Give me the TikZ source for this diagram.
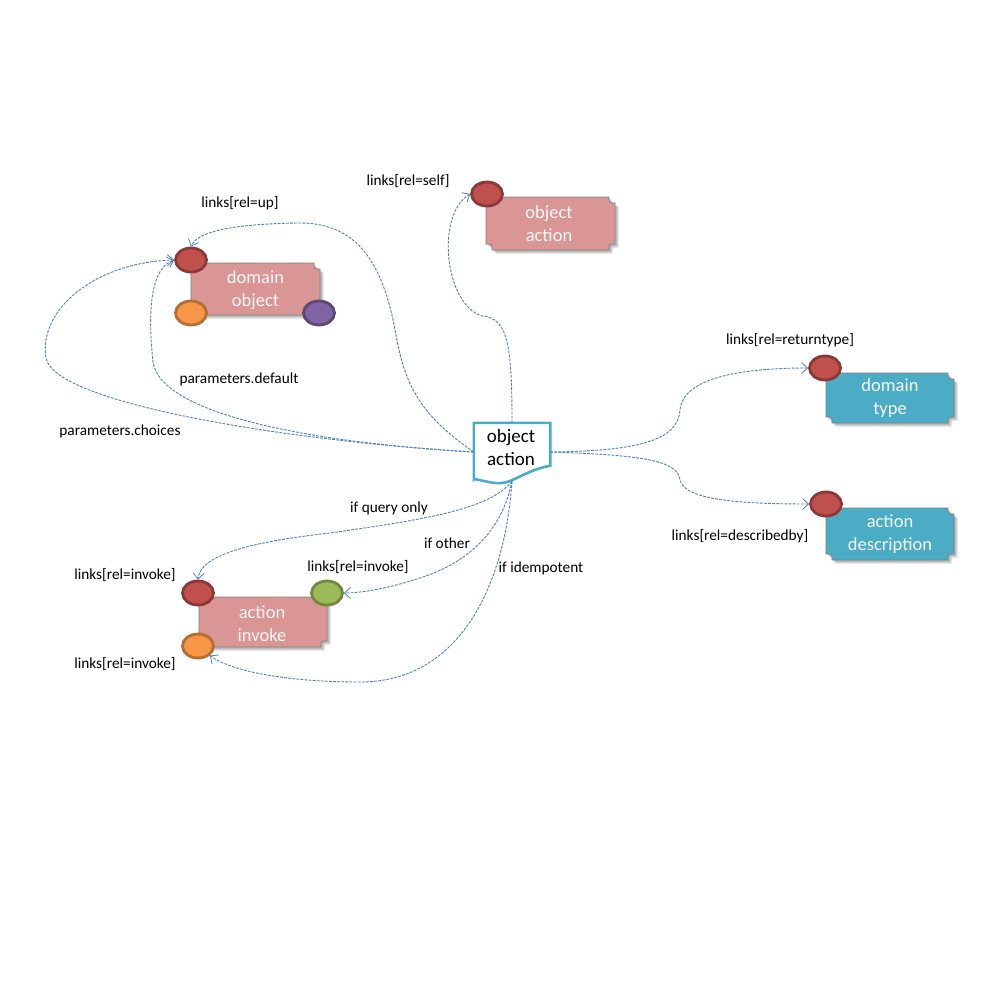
\documentclass[tikz,border=0pt]{standalone}
\usepackage{fontspec}
\setmainfont{Carlito}
\usetikzlibrary{arrows.meta,shadows,shapes.geometric}

\definecolor{pinkfill}{HTML}{D99694}
\definecolor{cyanfill}{HTML}{4BACC6}
\definecolor{boxedge}{HTML}{808080}
\definecolor{redfill}{HTML}{C0504D}
\definecolor{rededge}{HTML}{8C3836}
\definecolor{orangefill}{HTML}{F79646}
\definecolor{orangeedge}{HTML}{B66D31}
\definecolor{purplefill}{HTML}{8064A2}
\definecolor{purpleedge}{HTML}{5C4776}
\definecolor{greenfill}{HTML}{9BBB59}
\definecolor{greenedge}{HTML}{71893F}
\definecolor{linkblue}{HTML}{4F81BD}
\definecolor{boxtext}{HTML}{F8F8F8}

\tikzset{
  shapebox/.style={draw=boxedge, line width=0.8pt,
    drop shadow={shadow xshift=2pt, shadow yshift=-2pt, opacity=0.15, fill=black},
    drop shadow={shadow xshift=3.5pt, shadow yshift=-3.5pt, opacity=0.15, fill=black}},
  pinkbox/.style={shapebox, fill=pinkfill},
  cyanbox/.style={shapebox, fill=cyanfill},
  boxlabel/.style={text=boxtext, align=center, inner sep=0pt,
    font=\fontsize{18.5}{23}\selectfont},
  port/.style={ellipse, minimum width=31pt, minimum height=24pt, inner sep=0pt,
    line width=2.8pt},
  redport/.style={port, draw=rededge, fill=redfill},
  orangeport/.style={port, draw=orangeedge, fill=orangefill},
  purpleport/.style={port, draw=purpleedge, fill=purplefill},
  greenport/.style={port, draw=greenedge, fill=greenfill},
  link/.style={draw=linkblue, line width=0.9pt, dash pattern=on 2.8pt off 1.3pt,
    -{Straight Barb[length=6pt,width=11pt,line width=0.8pt]}},
  lab/.style={inner sep=0pt, font=\fontsize{15.3}{18}\selectfont},
}

\begin{document}
\begin{tikzpicture}[x=1pt,y=-1pt]
\useasboundingbox (0,0) rectangle (1001,982);
\fill[white] (0,0) rectangle (1001,982);

% --- boxes with concave corners ---
% domain object
\path[pinkbox] (191,263) -- (314,263) .. controls (314,269) .. (320,269)
  -- (320,315) -- (191,315) -- cycle;
\node[boxlabel] (dobj) at (255.5,290.5) {domain\\object};

% object action (upper)
\path[pinkbox] (486,197) -- (609,197) .. controls (609,203) .. (615,203)
  -- (615,244) .. controls (609,244) .. (609,250)
  -- (492,250) .. controls (492,244) .. (486,244) -- cycle;
\node[boxlabel] (oact) at (549,224) {object\\action};

% domain type
\path[cyanbox] (826,373) -- (948,373) .. controls (948,379) .. (954,379)
  -- (954,417) .. controls (948,417) .. (948,423)
  -- (832,423) .. controls (832,417) .. (826,417) -- cycle;
\node[boxlabel] (dtype) at (890,398.5) {domain\\type};

% action description
\path[cyanbox] (826,508) -- (948,508) .. controls (948,514) .. (954,514)
  -- (954,554) .. controls (948,554) .. (948,560)
  -- (832,560) .. controls (832,554) .. (826,554) -- cycle;
\node[boxlabel] (adesc) at (890,534.5) {action\\description};

% action invoke
\path[pinkbox] (199,597) -- (327,597) -- (327,641)
  .. controls (321,641) .. (321,647) -- (199,647) -- cycle;
\node[boxlabel] (ainv) at (262,623.5) {action\\invoke};

% --- central document shape ---
\node[inner sep=0pt, minimum width=76pt, minimum height=58pt] (oa) at (512,452) {};
\node[align=center, inner sep=0pt, font=\fontsize{19}{23}\selectfont]
  (oaText) at (511,447.5) {object\\action};
\draw[cyanfill, line width=2.6pt, line join=miter]
  (oa.south west) ++(0,-2) |- (oa.north east) -- ++(0,43)
  .. controls (535,468) and (522,476) .. (510,481)
  .. controls (497,486) and (487,481) .. (474,479) -- cycle;

% --- ports ---
\node[redport] (doUp) at (191,260) {};
\node[orangeport] (doOr) at (191,313) {};
\node[purpleport] (doPu) at (319,313) {};
\node[redport] (oaSelf) at (487,194) {};
\node[redport] (dtRet) at (825,368) {};
\node[redport] (adDesc) at (826,504) {};
\node[redport] (aiTop) at (198,593) {};
\node[greenport] (aiGreen) at (327,593) {};
\node[orangeport] (aiBot) at (198,646) {};

% --- links ---
\draw[link] (oa.north) .. controls (512,345) and (508,318) .. (482,316)
  .. controls (445,305) and (435,215) .. (oaSelf.west);
\draw[link] (oa.west) .. controls (420,415) and (405,385) .. (396,335)
  .. controls (382,255) and (352,222) .. (297,223)
  .. controls (240,224) and (198,230) .. (doUp.north);
\draw[link] (oa.west) .. controls (300,442) and (160,412) .. (153,362)
  .. controls (147,305) and (152,268) .. (doUp.west);
\draw[link] (oa.west) .. controls (300,442) and (55,405) .. (46,358)
  .. controls (38,310) and (95,262) .. (doUp.west);
\draw[link] (oa.east) .. controls (640,451) and (678,440) .. (680,410)
  .. controls (683,378) and (740,368) .. (dtRet.west);
\draw[link] (oa.east) .. controls (640,455) and (678,460) .. (680,480)
  .. controls (684,500) and (740,504) .. (adDesc.west);
\draw[link] (oa.south) .. controls (490,510) and (420,520) .. (330,533)
  .. controls (250,542) and (200,555) .. (aiTop.north);
\draw[link] (oa.south) .. controls (502,530) and (470,562) .. (420,578)
  .. controls (390,588) and (362,593) .. (aiGreen.east);
\draw[link] (oa.south) .. controls (505,585) and (460,682) .. (360,682)
  .. controls (290,682) and (232,672) .. (aiBot.south east);

% --- labels ---
\node[lab] (lSelf) at (408,181) {links[rel=self]};
\node[lab] (lUp) at (240,203) {links[rel=up]};
\node[lab] (lDef) at (239,379) {parameters.default};
\node[lab] (lCho) at (120,431) {parameters.choices};
\node[lab] (lRet) at (790,340) {links[rel=returntype]};
\node[lab] (lDesc) at (740,536) {links[rel=describedby]};
\node[lab] (lQuery) at (389,508) {if query only};
\node[lab] (lOther) at (447,543) {if other};
\node[lab] (lIdem) at (541,568) {if idempotent};
\node[lab] (lInv1) at (125,575) {links[rel=invoke]};
\node[lab] (lInv2) at (358,567) {links[rel=invoke]};
\node[lab] (lInv3) at (125,664) {links[rel=invoke]};
\end{tikzpicture}
\end{document}
